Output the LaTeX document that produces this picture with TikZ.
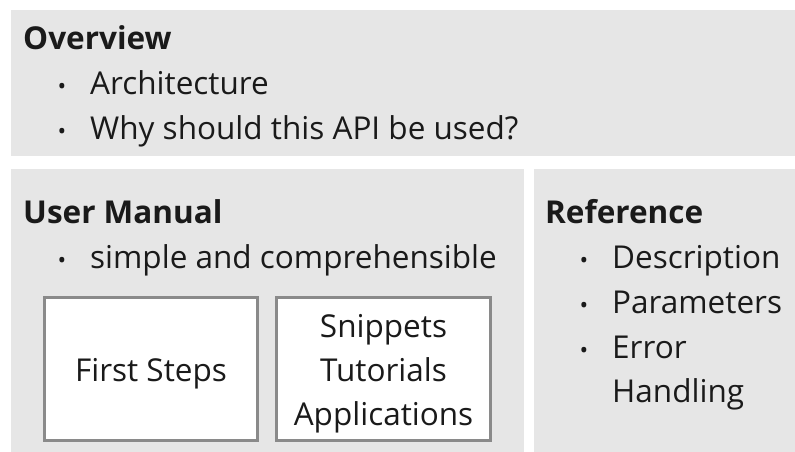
\documentclass[tikz,border=0pt]{standalone}
\usepackage{fontspec}
\setmainfont{Open Sans}
\definecolor{panelgrey}{HTML}{E6E6E6}
\definecolor{framegrey}{HTML}{8A8A8A}
\definecolor{ink}{HTML}{1A1A1A}
\tikzset{
  panel/.style={fill=panelgrey, draw=none, anchor=north west, inner sep=0pt},
  card/.style={fill=white, draw=framegrey, line width=3pt, inner sep=0pt},
  heading/.style={font=\fontsize{31.5}{44}\selectfont\bfseries, text=ink, anchor=base west, inner sep=0pt},
  item/.style={font=\fontsize{31.5}{44}\selectfont, text=ink, anchor=base west, inner sep=0pt, align=left},
  dot/.style={font=\fontsize{23}{44}\selectfont, text=ink, anchor=base, inner sep=0pt},
  cardtext/.style={font=\fontsize{31.5}{44}\selectfont, text=ink, align=center, inner sep=0pt, anchor=base}
}
\begin{document}
\begin{tikzpicture}[x=1pt,y=-1pt]
\useasboundingbox (0,0) rectangle (795,452);

% panels
\node[panel, minimum width=784pt, minimum height=146pt] (overview) at (11,10) {};
\node[panel, minimum width=513pt, minimum height=283pt] (manual) at (11,169) {};
\node[panel, minimum width=261pt, minimum height=283pt] (reference) at (534,169) {};

% overview
\node[heading] (ovh) at (23,49.5) {Overview};
\node[dot] (ovb1) at (62,94.5) {•};
\node[item] (ov1) at (90,94.5) {Architecture};
\node[dot] (ovb2) at (62,139) {•};
\node[item] (ov2) at (90,139) {Why should this API be used?};

% user manual
\node[heading] (umh) at (23,223) {User Manual};
\node[dot] (umb1) at (62,268) {•};
\node[item] (um1) at (90,268) {simple and comprehensible};

\node[card, minimum width=213pt, minimum height=143pt] (first) at (151,369) {};
\node[card, minimum width=214pt, minimum height=143pt] (snip) at (383.5,369) {};
\node[cardtext] (firsttxt) at (first.center) [yshift=-12pt] {First Steps};
\node[cardtext] (sniptxt) at (snip.center) [yshift=-56pt] {Snippets\\Tutorials\\Applications};

% reference
\node[heading] (refh) at (545,223) {Reference};
\node[dot] (rfb1) at (584,268) {•};
\node[item] (rf1) at (612,268) {Description};
\node[dot] (rfb2) at (584,313) {•};
\node[item] (rf2) at (612,313) {Parameters};
\node[dot] (rfb3) at (584,358) {•};
\node[item] (rf3) at (612,402) {Error\\Handling};
\end{tikzpicture}
\end{document}
